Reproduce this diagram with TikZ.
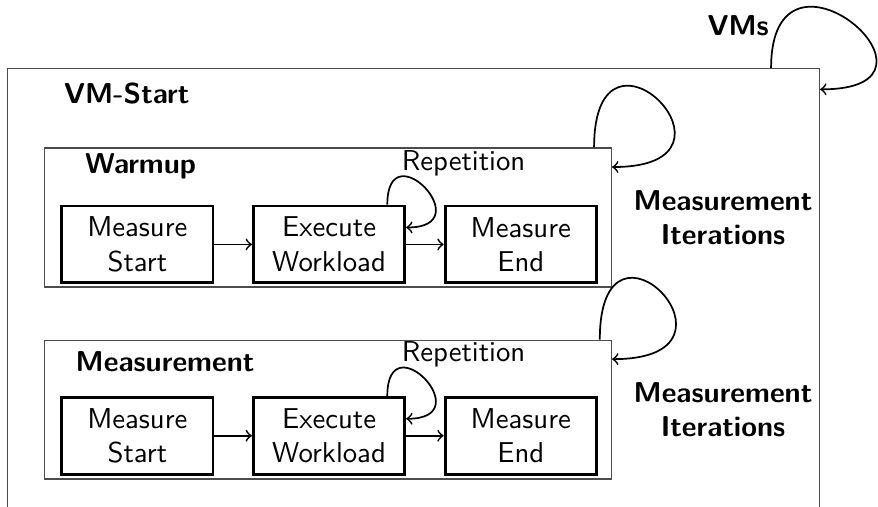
\documentclass[tikz,border=0pt]{standalone}
\usepackage{amsmath}
\usepackage{tikz}
\usetikzlibrary{positioning}

\begin{document}
\begin{tikzpicture}[
  every node/.style={font=\sffamily},
  phase/.style={draw=black!70, thin, minimum width=6.94cm, minimum height=1.70cm},
  stepbox/.style={draw=black, line width=1pt, align=center, minimum width=1.85cm, minimum height=0.94cm},
  title/.style={font=\sffamily\bfseries},
  iter/.style={->, semithick, out=90, in=0, distance=1.83cm},
  rep/.style={->, semithick, out=90, in=0, distance=0.92cm}
]
\useasboundingbox (0,0) rectangle (10.74,6.20);

% outer VM run and its two phases
\node[draw=black!70, thin, minimum width=9.93cm, minimum height=5.76cm](V) at (5.06,2.48) {};
\node[phase](W) at (4.01,3.54) {};
\node[phase](M) at (4.01,1.19) {};

\node[title](VS) at (1.55,5.06) {VM-Start};
\node[title](WT) at (1.72,4.16) {Warmup};
\node[title](MT) at (2.02,1.77) {Measurement};
\node[title](VL) at (9.03,5.88) {VMs};
\node[title, align=center, right=0.14cm of W](WI) {Measurement\\Iterations};
\node[title, align=center, right=0.14cm of M](MI) {Measurement\\Iterations};

% warmup steps
\node[stepbox](WS) at (1.68,3.21) {Measure\\Start};
\node[stepbox, right=0.46cm of WS](WE) {Execute\\Workload};
\node[stepbox, right=0.46cm of WE](WF) {Measure\\End};
\node(WR) at (5.67,4.20) {Repetition};

% measurement steps
\node[stepbox](MS) at (1.68,0.87) {Measure\\Start};
\node[stepbox, right=0.46cm of MS](ME) {Execute\\Workload};
\node[stepbox, right=0.46cm of ME](MF) {Measure\\End};
\node(MR) at (5.67,1.86) {Repetition};

\draw[->, semithick] (WS) -- (WE);
\draw[->, semithick] (WE) -- (WF);
\draw[->, semithick] (MS) -- (ME);
\draw[->, semithick] (ME) -- (MF);

\draw[rep] ([xshift=-0.23cm]WE.north east) to ([yshift=-0.28cm]WE.north east);
\draw[rep] ([xshift=-0.23cm]ME.north east) to ([yshift=-0.28cm]ME.north east);

\draw[iter] ([xshift=-0.22cm]W.north east) to ([yshift=-0.24cm]W.north east);
\draw[iter] ([xshift=-0.15cm]M.north east) to ([yshift=-0.24cm]M.north east);
\draw[iter] ([xshift=-0.60cm]V.north east) to ([yshift=-0.26cm]V.north east);
\end{tikzpicture}
\end{document}
